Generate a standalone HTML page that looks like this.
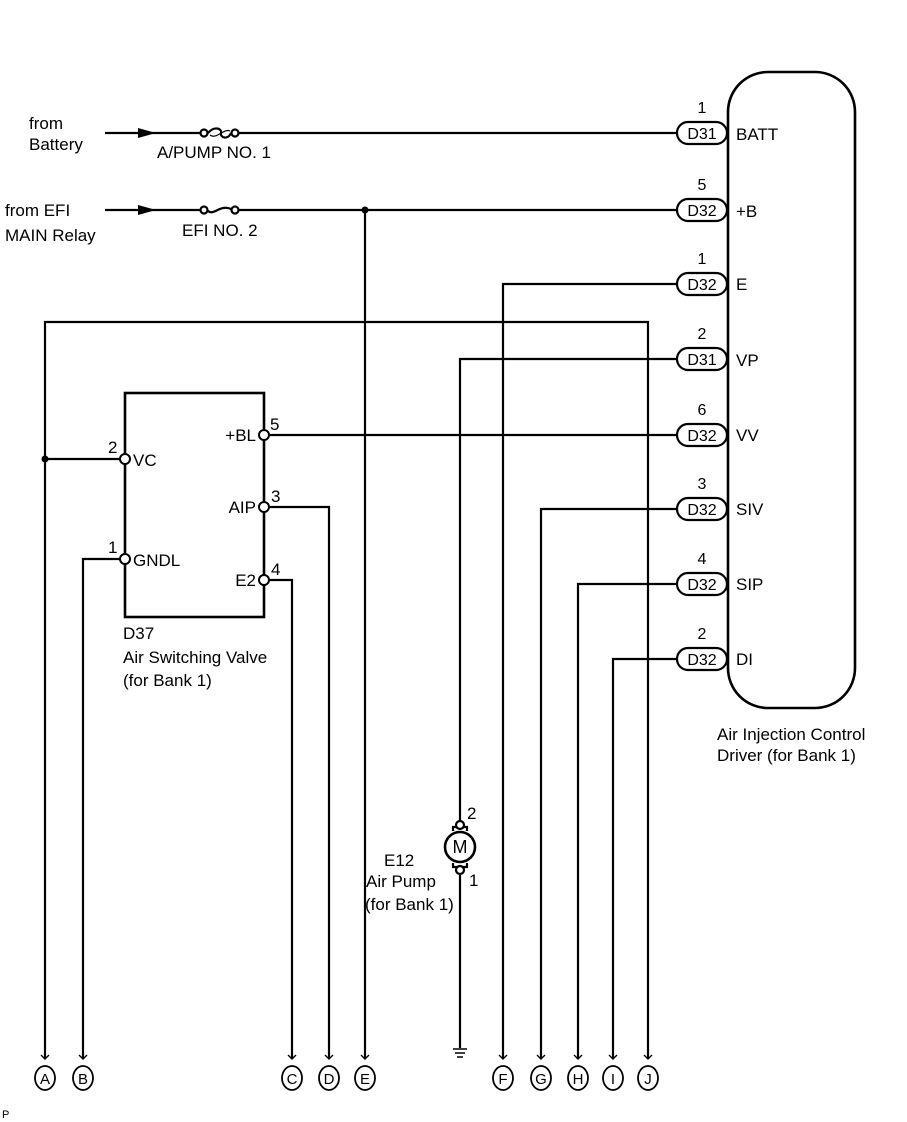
<!DOCTYPE html>
<html><head><style>
body{margin:0;background:#fff;}
svg{display:block;font-family:"Liberation Sans",Arial,sans-serif;}
</style></head><body>
<svg width="907" height="1122" viewBox="0 0 907 1122" xmlns="http://www.w3.org/2000/svg">
<g fill="none" stroke="#000" stroke-width="2.2">
<rect x="728" y="72" width="127" height="636" rx="40" stroke-width="2.6"/>
<line x1="105" y1="133" x2="202" y2="133"/>
<line x1="238" y1="133" x2="677" y2="133"/>
<line x1="105" y1="210" x2="202" y2="210"/>
<line x1="238" y1="210" x2="677" y2="210"/>
<circle cx="204" cy="133" r="3.5" fill="#fff"/><circle cx="235" cy="133" r="3.5" fill="#fff"/>
<path d="M208 133 C214 126 222 128 221 133 C220 138 228 140 231 133"/>
<path d="M210 135 C216 140 224 128 230 131" stroke-width="1.2"/>
<circle cx="204" cy="210" r="3.5" fill="#fff"/><circle cx="235" cy="210" r="3.5" fill="#fff"/>
<path d="M208 211 C214 216 220 204 231 209"/>
<line x1="365" y1="210" x2="365" y2="1058"/>
<polyline points="45,1058 45,322 648,322 648,1058"/>
<line x1="45" y1="459" x2="122" y2="459"/>
<rect x="125" y="393" width="139" height="224" stroke-width="2.6"/>
<polyline points="83,1058 83,559 122,559"/>
<line x1="268" y1="435" x2="677" y2="435"/>
<polyline points="268,507 329,507 329,1058"/>
<polyline points="268,580 292,580 292,1058"/>
<polyline points="677,284 503,284 503,1058"/>
<polyline points="677,359 460,359 460,821"/>
<polyline points="677,509 541,509 541,1058"/>
<polyline points="677,584 578,584 578,1058"/>
<polyline points="677,659 613,659 613,1058"/>
<line x1="460" y1="874" x2="460" y2="1048"/>
<circle cx="460" cy="847" r="15" stroke-width="2.6"/>
<path d="M453 831 L453 827 L467 827 L467 831 M453 863 L453 867 L467 867 L467 863"/>
<circle cx="460" cy="825" r="4" fill="#fff"/><circle cx="460" cy="870" r="4" fill="#fff"/>
</g>
<g fill="none" stroke="#000" stroke-width="1.5">
<line x1="453" y1="1049" x2="467" y2="1049"/><line x1="455" y1="1053" x2="465" y2="1053"/><line x1="457" y1="1057" x2="463" y2="1057"/>
</g>
<polygon points="138,128 156,133 138,138" fill="#000"/>
<polygon points="138,205 156,210 138,215" fill="#000"/>
<circle cx="365" cy="210" r="3.5" fill="#000"/>
<circle cx="45" cy="459" r="3.5" fill="#000"/>
<g fill="#fff" stroke="#000" stroke-width="2">
<circle cx="125" cy="459" r="5"/><circle cx="125" cy="559" r="5"/>
<circle cx="264" cy="435" r="5"/><circle cx="264" cy="507" r="5"/><circle cx="264" cy="580" r="5"/>
</g>
<g fill="#fff" stroke="#000" stroke-width="2.2">
<rect x="677" y="122" width="50" height="22" rx="11"/>
<rect x="677" y="199" width="50" height="22" rx="11"/>
<rect x="677" y="273" width="50" height="22" rx="11"/>
<rect x="677" y="348" width="50" height="22" rx="11"/>
<rect x="677" y="424" width="50" height="22" rx="11"/>
<rect x="677" y="498" width="50" height="22" rx="11"/>
<rect x="677" y="573" width="50" height="22" rx="11"/>
<rect x="677" y="648" width="50" height="22" rx="11"/>
</g>
<g font-size="16" fill="#000" text-anchor="middle">
<text x="702" y="139">D31</text><text x="702" y="216">D32</text><text x="702" y="290">D32</text><text x="702" y="365">D31</text>
<text x="702" y="441">D32</text><text x="702" y="515">D32</text><text x="702" y="590">D32</text><text x="702" y="665">D32</text>
<text x="702" y="113">1</text><text x="702" y="190">5</text><text x="702" y="264">1</text><text x="702" y="339">2</text>
<text x="702" y="415">6</text><text x="702" y="489">3</text><text x="702" y="564">4</text><text x="702" y="639">2</text>
</g>
<g font-size="17" fill="#000">
<text x="736" y="140">BATT</text><text x="736" y="217">+B</text><text x="736" y="290">E</text><text x="736" y="366">VP</text>
<text x="736" y="441">VV</text><text x="736" y="515">SIV</text><text x="736" y="590">SIP</text><text x="736" y="665">DI</text>
<text x="717" y="740">Air Injection Control</text><text x="717" y="761">Driver (for Bank 1)</text>
<text x="29" y="129">from</text><text x="29" y="150">Battery</text>
<text x="5" y="216">from EFI</text><text x="5" y="241">MAIN Relay</text>
<text x="157" y="158">A/PUMP NO. 1</text><text x="182" y="236">EFI NO. 2</text>
<text x="133" y="466">VC</text><text x="133" y="566">GNDL</text>
<text x="108" y="453">2</text><text x="108" y="553">1</text>
<text x="256" y="441" text-anchor="end">+BL</text><text x="256" y="513" text-anchor="end">AIP</text><text x="256" y="586" text-anchor="end">E2</text>
<text x="270" y="430">5</text><text x="271" y="502">3</text><text x="271" y="575">4</text>
<text x="123" y="639">D37</text><text x="123" y="663">Air Switching Valve</text><text x="123" y="686">(for Bank 1)</text>
<text x="384" y="866">E12</text><text x="366" y="887">Air Pump</text><text x="365" y="910">(for Bank 1)</text>
<text x="467" y="819">2</text><text x="469" y="886">1</text>
<text x="2" y="1118" font-size="11">P</text>
</g>
<g fill="none" stroke="#000" stroke-width="1.4">
<path d="M41 1055 L45 1059 L49 1055 M79 1055 L83 1059 L87 1055 M288 1055 L292 1059 L296 1055 M325 1055 L329 1059 L333 1055 M361 1055 L365 1059 L369 1055 M499 1055 L503 1059 L507 1055 M537 1055 L541 1059 L545 1055 M574 1055 L578 1059 L582 1055 M609 1055 L613 1059 L617 1055 M644 1055 L648 1059 L652 1055"/>
<g stroke-width="1.8">
<ellipse cx="45" cy="1078" rx="10" ry="12"/><ellipse cx="83" cy="1078" rx="10" ry="12"/>
<ellipse cx="292" cy="1078" rx="10" ry="12"/><ellipse cx="329" cy="1078" rx="10" ry="12"/><ellipse cx="365" cy="1078" rx="10" ry="12"/>
<ellipse cx="503" cy="1078" rx="10" ry="12"/><ellipse cx="541" cy="1078" rx="10" ry="12"/><ellipse cx="578" cy="1078" rx="10" ry="12"/>
<ellipse cx="613" cy="1078" rx="10" ry="12"/><ellipse cx="648" cy="1078" rx="10" ry="12"/>
</g>
</g>
<g font-size="15" fill="#000" text-anchor="middle">
<text x="45" y="1084">A</text><text x="83" y="1084">B</text><text x="292" y="1084">C</text><text x="329" y="1084">D</text><text x="365" y="1084">E</text>
<text x="503" y="1084">F</text><text x="541" y="1084">G</text><text x="578" y="1084">H</text><text x="613" y="1084">I</text><text x="648" y="1084">J</text>
</g>
<text x="460" y="853" font-size="18" text-anchor="middle" fill="#000">M</text>
</svg>
</body></html>
